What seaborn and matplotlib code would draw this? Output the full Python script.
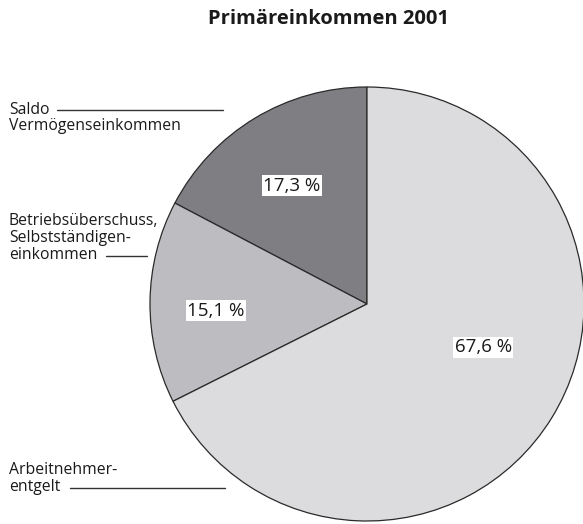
import matplotlib
matplotlib.use('Agg')
import matplotlib.pyplot as plt
import seaborn as sns
from matplotlib.lines import Line2D

# Data
# ----

categories = ['Saldo Vermögenseinkommen', 'Betriebsüberschuss, Selbstständigeneinkommen', 'Arbeitnehmerentgelt']
shares = [17.3, 15.1, 67.6]
colors = ['#7f7f83', '#bdbdc1', '#dcdcde']
title = 'Primäreinkommen 2001'

# Style
# -----

sns.set_theme(style='white')
plt.rcParams['font.family'] = ['Open Sans', 'DejaVu Sans']

W, H = 583, 524
fig = plt.figure(figsize=(W / 100, H / 100), dpi=100)

# pie axes: center (367, 304) px, radius 217 px
cx, cy, r = 367, 304, 217
ax = fig.add_axes([(cx - r) / W, (H - cy - r) / H, 2 * r / W, 2 * r / H])
wedges, texts, autotexts = ax.pie(
    shares, colors=colors, startangle=90, counterclock=True,
    autopct=lambda p: f'{p:.1f}'.replace('.', ',') + ' %',
    wedgeprops=dict(edgecolor='#2a2a2a', linewidth=0.9),
    textprops=dict(fontsize=13.5, color='#1a1a1a'),
)
ax.set_xlim(-1, 1)
ax.set_ylim(-1, 1)
ax.set_aspect('auto')
ax.axis('off')

# move percent labels to where the reference has them
label_pos = [(-0.346, 0.545), (-0.696, -0.030), (0.535, -0.200)]
for t, pos in zip(autotexts, label_pos):
    t.set_position(pos)
    t.set_bbox(dict(facecolor='white', edgecolor='none', pad=1.2))

# Title and left-hand labels in pixel coordinates
# -----------------------------------------------

def px(x, y):
    return x / W, 1 - y / H

fig.text(*px(329, 19), title, ha='center', va='center', fontsize=14.5, fontweight='bold', color='#1a1a1a')

side_labels = [
    ((9, 110), 'Saldo', (57, 223, 110)),
    ((9, 126), 'Vermögenseinkommen', None),
    ((9, 221), 'Betriebsüberschuss,', None),
    ((9, 238), 'Selbstständigen-', None),
    ((9, 255), 'einkommen', (106, 147, 256)),
    ((9, 470), 'Arbeitnehmer-', None),
    ((9, 487), 'entgelt', (70, 225, 488)),
]
for (x, y), txt, line in side_labels:
    fig.text(*px(x, y), txt, ha='left', va='center', fontsize=11.3, color='#1a1a1a')
    if line is not None:
        x0, x1, ly = line
        fig.add_artist(Line2D([x0 / W, x1 / W], [1 - ly / H, 1 - ly / H],
                              transform=fig.transFigure, color='#333333', linewidth=1.0))

fig.savefig('out.png', dpi=100)
